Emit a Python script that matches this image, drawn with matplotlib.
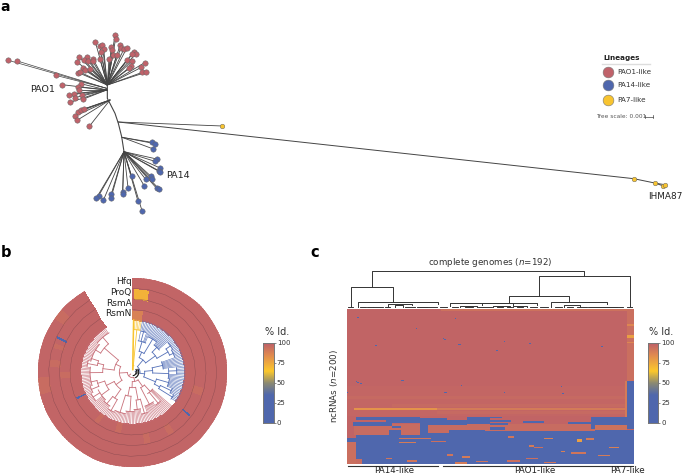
import numpy as np
import matplotlib
matplotlib.use("Agg")
import matplotlib.pyplot as plt
from matplotlib.colors import LinearSegmentedColormap

RED = "#c0626a"
BLUE = "#4f67ad"
YELLOW = "#f8c430"
GREY = "#444444"

# panel a: tree tips (units are 1/3 pixel)
RED_TOP_TIPS = [(345, 105), (347, 116), (286, 126), (300, 139), (307, 136), (311, 147), (302, 157),
                (334, 140), (336, 150), (338, 166), (350, 166), (327, 176), (300, 178), (360, 136),
                (362, 145), (372, 146), (380, 145), (403, 155), (407, 162), (395, 163), (380, 181),
                (395, 183), (394, 198), (388, 205), (434, 188), (424, 202), (427, 217), (437, 217),
                (238, 171), (232, 187), (261, 172), (253, 181), (264, 182), (279, 177), (278, 184),
                (249, 203), (254, 210), (270, 207), (235, 218), (241, 217)]
RED_LEFT_TIPS = [(186, 254), (242, 251), (233, 261), (237, 270), (223, 281), (208, 285), (224, 293),
                 (247, 284), (248, 298), (211, 307)]
RED_LONG_TIPS = [(25, 181), (52, 183), (167, 226)]
RED_LOW_TIPS = [(235, 336), (243, 330), (252, 327), (225, 348), (231, 361), (268, 379)]
BLUE_SIDE_TIPS = [(455, 427), (465, 431), (460, 447)]
BLUE_TIPS = [(470, 477), (465, 484), (480, 504), (476, 512), (480, 516), (453, 529), (456, 538),
             (437, 538), (433, 558), (395, 529), (384, 563), (470, 565), (477, 567), (414, 604),
             (426, 632), (368, 577), (368, 582), (334, 582), (333, 594), (310, 601), (296, 587),
             (289, 594)]
YELLOW_NEAR_TIP = (667, 378)
YELLOW_FAR_TIPS = [(1901, 536), (1964, 549), (1988, 557), (1995, 554)]
SPINE = [(322, 255), (322, 295), (345, 340), (355, 370), (365, 410), (372, 455)]

# panel b: tracks, colourbar ticks and tree clades (start deg, end deg, radius)
TRACKS = ["RsmN", "RsmA", "ProQ", "Hfq"]
N_STRAINS = 192
RING_SPAN = 329
RING_VALUES = {
    "Hfq": [(0, 192, 98), (150, 156, 95), (178, 182, 95)],
    "ProQ": [(0, 192, 98), (1, 7, 72), (172, 173, 0), (168, 170, 95), (160, 163, 95)],
    "RsmA": [(0, 192, 98), (74, 75, 0), (60, 64, 95), (85, 88, 95), (97, 100, 95), (155, 158, 95)],
    "RsmN": [(0, 192, 98), (0, 6, 88), (143, 144, 0), (125, 128, 95), (112, 115, 95)],
}
CLADE_ARCS_BLUE = [(10, 125, 22), (10, 70, 48), (70, 125, 36), (10, 38, 66), (38, 70, 84), (70, 100, 60),
                   (100, 125, 74), (10, 24, 96), (24, 38, 116), (38, 50, 104), (50, 70, 122),
                   (70, 84, 92), (84, 100, 108), (100, 112, 112), (112, 125, 92), (84, 92, 132),
                   (50, 60, 138), (60, 70, 134), (12, 18, 126), (112, 119, 128), (119, 125, 140)]
CLADE_ARCS_RED = [(130, 329, 16), (130, 205, 28), (205, 329, 40), (130, 160, 52), (160, 205, 46),
                  (205, 262, 62), (262, 329, 56), (130, 145, 78), (145, 160, 108), (160, 178, 84),
                  (178, 205, 72), (205, 225, 94), (225, 262, 88), (262, 292, 90), (292, 329, 112),
                  (178, 190, 118), (190, 205, 126), (225, 243, 116), (243, 262, 110),
                  (262, 277, 128), (277, 292, 108), (292, 310, 130), (310, 329, 138),
                  (136, 145, 120), (160, 168, 128), (168, 178, 112), (205, 214, 132), (214, 225, 122),
                  (233, 243, 140), (243, 252, 134), (252, 262, 128), (277, 285, 138), (285, 292, 130)]
CLADE_ARCS_YELLOW = [(0, 10, 20), (1, 10, 128)]
CENTER_ARCS = [(60, 150, 18), (80, 170, 10), (50, 110, 13)]

# panel c: colourbar ticks and heatmap cells (row from, row to, col from, col to, % id)
CBAR_TICKS = [0, 25, 50, 75, 100]
N_ROWS = 200
N_COLS = 192
HEAT_BANDS = [
    (0, 200, 0, 192, 98), (0, 2, 63, 192, 93),
    (100, 138, 0, 187, 97), (112, 116, 0, 187, 96), (122, 126, 30, 187, 96), (132, 136, 60, 187, 96),
    (149, 162, 5, 187, 95), (128, 130, 5, 60, 82), (128, 130, 60, 187, 90),
    (0, 93, 187, 192, 94), (33, 37, 187, 192, 78), (42, 44, 187, 192, 86), (20, 22, 187, 192, 86),
    (93, 143, 187, 192, 0), (143, 148, 187, 192, 95), (93, 140, 186, 187, 90),
    # blue and red stripes above the big blue block
    (139, 143, 6, 30, 0), (146, 151, 4, 30, 0), (140, 147, 26, 49, 0), (141, 150, 49, 67, 0),
    (150, 162, 49, 54, 0), (143, 150, 67, 80, 0), (139, 148, 80, 96, 0), (143, 146, 96, 110, 0),
    (139, 141, 96, 104, 0), (147, 150, 96, 108, 0), (152, 156, 96, 106, 0), (144, 147, 118, 132, 0),
    (146, 148, 148, 165, 0), (139, 155, 163, 192, 0), (151, 154, 30, 36, 0), (156, 163, 28, 36, 0),
    (150, 156, 166, 187, 93), (156, 160, 68, 92, 0), (158, 161, 92, 130, 0),
    # big blue block at the bottom
    (162, 200, 6, 50, 0), (160, 200, 50, 96, 0), (159, 200, 96, 130, 0), (157, 200, 130, 166, 0),
    (156, 200, 166, 192, 0), (167, 171, 0, 6, 0), (193, 200, 6, 10, 95), (171, 200, 0, 6, 94),
    # red stripes in the blue block
    (166, 168, 35, 56, 92), (171, 173, 35, 46, 90), (170, 172, 56, 66, 94), (187, 190, 67, 71, 92),
    (195, 198, 40, 47, 92), (192, 194, 26, 30, 92), (166, 168, 132, 138, 88), (168, 171, 154, 157, 78),
    (167, 169, 160, 165, 90), (178, 180, 125, 131, 94), (192, 194, 120, 128, 94), (195, 197, 107, 116, 94),
    (197, 199, 132, 140, 92), (164, 166, 108, 112, 92), (176, 178, 122, 125, 90), (183, 185, 143, 146, 88),
    (190, 192, 77, 82, 90), (197, 200, 72, 80, 90), (196, 198, 86, 94, 92), (185, 187, 150, 160, 92),
    (188, 190, 168, 176, 90), (178, 180, 175, 182, 88),
]
HEAT_SPECKS = [(38, 64), (39, 65), (42, 65), (45, 74), (45, 75), (41, 105), (44, 122), (25, 46), (12, 72),
               (93, 6), (94, 7), (95, 8), (96, 9), (42, 0), (47, 19), (24, 181), (48, 170), (95, 83),
               (98, 76), (100, 143), (95, 177), (107, 65), (107, 66), (107, 0), (107, 105), (109, 144),
               (92, 36), (92, 37), (10, 7), (53, 100)]

# panel c: top dendrogram links (x left, x right, y top, y left end, y right end)
TOP_LINKS = [(96, 733, 48, 96, 62), (33, 160, 96, 158, 140), (598, 870, 62, 122, 158),
             (508, 688, 122, 143, 140), (330, 590, 143, 152, 150), (632, 800, 140, 158, 148),
             (55, 293, 140, 158, 146), (425, 520, 143, 150, 150), (145, 215, 146, 156, 150),
             (672, 720, 150, 158, 156), (745, 832, 155, 158, 158), (230, 290, 156, 158, 158),
             (80, 100, 155, 158, 158), (165, 190, 150, 158, 156), (360, 410, 154, 158, 158),
             (460, 510, 152, 158, 157), (520, 560, 154, 158, 158), (770, 820, 156, 158, 158),
             (645, 665, 156, 158, 158), (25, 40, 155, 158, 158), (862, 878, 155, 158, 158),
             (100, 130, 156, 158, 158), (430, 455, 155, 158, 158), (570, 590, 155, 158, 158),
             (60, 78, 156, 158, 158), (135, 150, 156, 158, 158), (195, 225, 156, 158, 158),
             (240, 262, 156, 158, 158), (300, 322, 156, 158, 158), (335, 355, 156, 158, 158),
             (375, 400, 156, 158, 158), (415, 428, 156, 158, 158), (470, 490, 156, 158, 158),
             (500, 515, 156, 158, 158), (530, 550, 156, 158, 158), (600, 625, 156, 158, 158),
             (680, 700, 156, 158, 158), (710, 740, 156, 158, 158), (750, 790, 157, 158, 158),
             (795, 850, 156, 158, 158)]
BRACKETS = [(347.7, 438.3), (443.3, 625), (626, 633.3)]
BRACKET_LABELS = ["PA14-like", "PAO1-like", "PA7-like"]
BRACKET_CENTERS = [393.8, 535, 627]

FIG_W, FIG_H = 685, 475
CMAP = LinearSegmentedColormap.from_list(
    "identity",
    [(0, BLUE), (0.35, BLUE), (0.5, "#8c8a72"), (0.65, "#fcc82c"), (0.85, "#e08a50"), (1, "#bd5f69")],
)


def px_axes(fig, left, top, width, height, **kwargs):
    """Add an axes placed by pixel box measured from the top-left corner."""
    return fig.add_axes(
        [left / FIG_W, 1 - (top + height) / FIG_H, width / FIG_W, height / FIG_H], **kwargs
    )


def fan(ax, tips, hub, lw=0.6):
    for x, y in tips:
        ax.plot([hub[0], x], [hub[1], y], color=GREY, lw=lw, zorder=2, solid_capstyle="round")


def tips_scatter(ax, tips, color, s=15):
    xs = [t[0] for t in tips]
    ys = [t[1] for t in tips]
    ax.scatter(xs, ys, s=s, color=color, edgecolor="#666666", linewidth=0.35, zorder=3)


def draw_tree_a(ax):
    xs = [p[0] for p in SPINE]
    ys = [p[1] for p in SPINE]
    ax.plot(xs, ys, color=GREY, lw=0.8, zorder=2)
    fan(ax, RED_TOP_TIPS, (322, 255))
    fan(ax, RED_LEFT_TIPS, (320, 270))
    fan(ax, RED_LONG_TIPS, (320, 265), lw=0.5)
    fan(ax, RED_LOW_TIPS, (330, 300))
    fan(ax, BLUE_SIDE_TIPS, (366, 412))
    fan(ax, BLUE_TIPS, (372, 455))
    fan(ax, [YELLOW_NEAR_TIP], (355, 366))
    # the far tips hang off one long branch
    chain = [(355, 366)] + YELLOW_FAR_TIPS[:3]
    ax.plot([p[0] for p in chain], [p[1] for p in chain], color=GREY, lw=0.7, zorder=2)
    fan(ax, YELLOW_FAR_TIPS[3:], YELLOW_FAR_TIPS[1])
    tips_scatter(ax, RED_TOP_TIPS + RED_LEFT_TIPS + RED_LONG_TIPS + RED_LOW_TIPS, RED)
    tips_scatter(ax, BLUE_SIDE_TIPS + BLUE_TIPS, BLUE)
    tips_scatter(ax, [YELLOW_NEAR_TIP] + YELLOW_FAR_TIPS, YELLOW, s=11)


def draw_legend(fig, ax):
    ax.plot([1806, 1950], [192, 192], color="#dddddd", lw=1)
    ax.text(1810, 173, "Lineages", fontsize=5.2, fontweight="bold", va="center", color="#222222")
    names = ["PAO1-like", "PA14-like", "PA7-like"]
    colors = [RED, BLUE, YELLOW]
    rows = [215, 256, 299]
    for name, color, y in zip(names, colors, rows):
        ax.scatter([1825], [y], s=60, color=color, edgecolor="#777777", linewidth=0.4)
        ax.text(1853, y, name, fontsize=5.2, va="center", color="#333333")
    ax.text(1787, 350, "Tree scale: 0.001", fontsize=4.2, va="center", color="#555555")
    ax.plot([1935, 1959], [350, 350], color=GREY, lw=0.5)
    ax.plot([1935, 1935], [346, 354], color=GREY, lw=0.5)
    ax.plot([1959, 1959], [346, 354], color=GREY, lw=0.5)


def arc(ax, a0, a1, r, color, lw=0.6):
    theta = np.radians(np.linspace(a0, a1, 30))
    ax.plot(theta, np.full(theta.shape, r), color=color, lw=lw, zorder=3)


def direct_parent(arcs, item):
    """Deepest clade that encloses this one."""
    parents = [p for p in arcs if p[0] <= item[0] and p[1] >= item[1] and p[2] < item[2]]
    return max(parents, key=lambda p: p[2]) if parents else None


def draw_clades(ax, arcs, color, tip_r=157):
    step = RING_SPAN / N_STRAINS
    for item in arcs:
        a0, a1, r = item
        mids = [(c[0] + c[1]) / 2 for c in arcs if direct_parent(arcs, c) == item]
        if len(mids) > 1:
            arc(ax, min(mids), max(mids), r, color)
        else:
            arc(ax, a0, a1, r, color)
        parent = direct_parent(arcs, item)
        r0 = parent[2] if parent else 8
        mid = (a0 + a1) / 2
        ax.plot(np.radians([mid, mid]), [r0, r], color=color, lw=0.6, zorder=3)
    lo = min(a[0] for a in arcs)
    hi = max(a[1] for a in arcs)
    for angle in np.arange(lo + step / 2, hi, step):
        owners = [a[2] for a in arcs if a[0] <= angle <= a[1]]
        ax.plot(np.radians([angle, angle]), [max(owners), tip_r], color=color, lw=0.4, zorder=3)


def draw_ring(ax):
    edges = np.radians(np.linspace(0, RING_SPAN, N_STRAINS + 1))
    radii = [157, 188, 220, 252, 284]
    cells = np.zeros((len(TRACKS), N_STRAINS))
    for i, track in enumerate(TRACKS):
        for c0, c1, value in RING_VALUES[track]:
            cells[i, c0:c1] = value
    ax.pcolormesh(edges, radii, cells, cmap=CMAP, vmin=0, vmax=100, edgecolors="face", linewidth=0.25)
    for r in radii[1:-1]:
        arc(ax, 0, RING_SPAN, r, "#8a4a50", lw=0.3)
    draw_clades(ax, CLADE_ARCS_BLUE, "#5470b8")
    draw_clades(ax, CLADE_ARCS_RED, "#c8707a")
    draw_clades(ax, CLADE_ARCS_YELLOW, YELLOW)
    ax.plot(np.radians([1, 1]), [8, 157], color=YELLOW, lw=1.1, zorder=4)
    for a0, a1, r in CENTER_ARCS:
        arc(ax, a0, a1, r, "#111111", lw=0.8)
    ax.set_theta_zero_location("N")
    ax.set_theta_direction(-1)
    ax.set_ylim(0, 284)
    ax.set_axis_off()


def colorbar(fig, left, title_x):
    cax = px_axes(fig, left, 342.7, 10.7, 80)
    grad = np.linspace(100, 0, 256).reshape(-1, 1)
    cax.imshow(grad, cmap=CMAP, vmin=0, vmax=100, aspect="auto", extent=[0, 1, 0, 100])
    cax.set_xticks([])
    cax.yaxis.tick_right()
    cax.set_yticks(CBAR_TICKS)
    cax.tick_params(axis="y", length=1.2, width=0.4, labelsize=5, pad=0.8, colors="#333333")
    for spine in cax.spines.values():
        spine.set_linewidth(0.7)
        spine.set_color("#777777")
    fig.text(title_x / FIG_W, 1 - 331.7 / FIG_H, "% Id.", fontsize=7, ha="left", va="center", color="#333333")


def build_heatmap():
    cells = np.zeros((N_ROWS, N_COLS))
    for r0, r1, c0, c1, value in HEAT_BANDS:
        cells[r0:r1, c0:c1] = value
    for r, c in HEAT_SPECKS:
        cells[r, c] = 0
    return cells


def draw_dendrogram(ax):
    for x0, x1, y_top, y0, y1 in TOP_LINKS:
        ax.plot([x0, x0, x1, x1], [y0, y_top, y_top, y1], color="#333333", lw=0.7)
    ax.set_xlim(20, 879)
    ax.set_ylim(158, 40)
    ax.set_axis_off()


def main():
    fig = plt.figure(figsize=(FIG_W / 100, FIG_H / 100), dpi=100)

    # one full-page overlay for panel a, the legend and all loose labels
    page = fig.add_axes([0, 0, 1, 1])
    page.set_xlim(0, FIG_W * 3)
    page.set_ylim(FIG_H * 3, 0)
    page.set_axis_off()
    draw_tree_a(page)
    draw_legend(fig, page)
    page.text(91, 268, "PAO1", fontsize=6.8, va="center", color="#222222")
    page.text(499, 527, "PA14", fontsize=6.8, va="center", color="#222222")
    page.text(1943, 588, "IHMA87", fontsize=6.4, va="center", color="#222222")
    page.text(1, 20, "a", fontsize=10, fontweight="bold", va="center")
    page.text(3, 756, "b", fontsize=10.5, fontweight="bold", va="center")
    page.text(930, 756, "c", fontsize=10.5, fontweight="bold", va="center")

    # panel b
    ring = px_axes(fig, 38, 277.6, 189.4, 189.4, projection="polar")
    draw_ring(ring)
    for name, y in zip(["Hfq", "ProQ", "RsmA", "RsmN"], [282, 293, 303.5, 314]):
        fig.text(131.5 / FIG_W, 1 - y / FIG_H, name, fontsize=6.5, ha="right", va="center", color="#222222")
    colorbar(fig, 263.3, 265)

    # panel c
    heat = px_axes(fig, 346.7, 309, 286.3, 155)
    heat.imshow(build_heatmap(), cmap=CMAP, vmin=0, vmax=100, aspect="auto", interpolation="nearest")
    heat.set_axis_off()
    dend = px_axes(fig, 346.7, 268.3, 286.3, 39.4)
    draw_dendrogram(dend)
    colorbar(fig, 647.7, 649)
    for (x0, x1), label, center in zip(BRACKETS, BRACKET_LABELS, BRACKET_CENTERS):
        page.plot([x0 * 3, x1 * 3], [465.8 * 3, 465.8 * 3], color="#333333", lw=0.8)
        page.text(center * 3, 470.5 * 3, label, fontsize=6.3, ha="center", va="center", color="#222222")
    page.text(490.5 * 3, 262.5 * 3, r"complete genomes ($\it{n}$=192)", fontsize=6.3, ha="center",
              va="center", color="#333333")
    page.text(333.5 * 3, 386 * 3, r"ncRNAs ($\it{n}$=200)", fontsize=6.3, rotation=90, ha="center",
              va="center", color="#333333")

    fig.savefig("out.png", dpi=100)


if __name__ == "__main__":
    main()
